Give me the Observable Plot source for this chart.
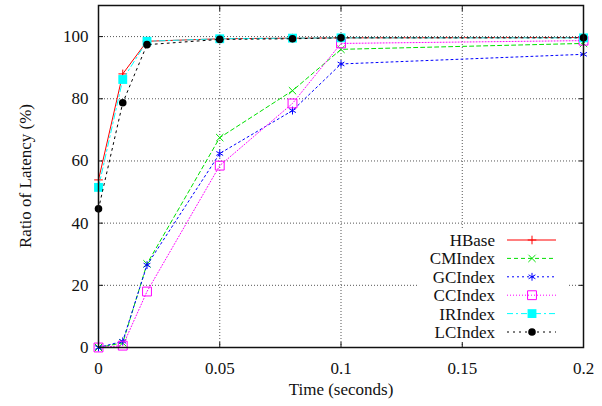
<!DOCTYPE html>
<html><head><meta charset="utf-8">
<script src="https://cdn.jsdelivr.net/npm/d3@7"></script>
<script src="https://cdn.jsdelivr.net/npm/@observablehq/plot@0.6"></script>
<style>
body{margin:0;background:#fff}
svg, svg text { font-family: "Liberation Serif", "Times New Roman", Times, serif !important; }
</style>
</head><body><div id="chart"></div>
<script>
const times = [0, 0.01, 0.02, 0.05, 0.08, 0.1, 0.2];
const seriesNames = ["HBase", "CMIndex", "GCIndex", "CCIndex", "IRIndex", "LCIndex"];
const hbase   = [53.9, 88.0, 98.5, 99.3, 99.5, 99.6, 99.7];
const cmindex = [0, 1.5, 26.9, 67.5, 82.6, 95.9, 97.8];
const gcindex = [0, 2.0, 26.5, 62.4, 76.2, 91.2, 94.3];
const ccindex = [0, 0.6, 18.0, 58.5, 78.5, 97.8, 98.7];
const irindex = [51.5, 86.2, 98.5, 99.3, 99.5, 99.6, 99.6];
const lcindex = [44.6, 78.7, 97.4, 99.1, 99.3, 99.6, 99.6];
const xTicks = [0, 0.05, 0.1, 0.15, 0.2];
const xTickLabels = ["0", "0.05", "0.1", "0.15", "0.2"];
const yTicks = [0, 20, 40, 60, 80, 100];
const yTickLabels = ["0", "20", "40", "60", "80", "100"];
const xTitle = "Time (seconds)";
const yTitle = "Ratio of Latency (%)";

const valuesBySeries = [hbase, cmindex, gcindex, ccindex, irindex, lcindex];
const styles = {
  HBase:   {color: "#ff0000", dash: null,      symbol: "plus",     r: 2.9, fill: "none",    stroke: "#ff0000"},
  CMIndex: {color: "#00e000", dash: "4,3",     symbol: "times",    r: 3.4, fill: "none",    stroke: "#00e000"},
  GCIndex: {color: "#0000ff", dash: "2,3",     symbol: "asterisk", r: 3.7, fill: "none",    stroke: "#0000ff"},
  CCIndex: {color: "#ff00ff", dash: "1,2",     symbol: "square",   r: 5,   fill: "none",    stroke: "#ff00ff"},
  IRIndex: {color: "#00ffff", dash: "6,3,2,3", symbol: "square",   r: 5,   fill: "#00ffff", stroke: "none"},
  LCIndex: {color: "#000000", dash: "2,4",     symbol: "circle",   r: 3.8, fill: "#000000", stroke: "none"}
};

const W = 602, H = 406, mL = 98, mR = 19, mT = 5, mB = 59;
const FONT = "Liberation Serif, Times New Roman, serif";

const marks = [];
marks.push(Plot.gridY(yTicks.filter(d => d > 0), {stroke: "#444", strokeOpacity: 0.9, strokeDasharray: "1,2"}));
marks.push(Plot.gridX(xTicks.filter(d => d > 0 && d < 0.2), {stroke: "#444", strokeOpacity: 0.9, strokeDasharray: "1,2"}));
marks.push(Plot.axisY(yTicks, {anchor: "left", tickSize: -5, tickPadding: 15, tickFormat: d => yTickLabels[yTicks.indexOf(d)], label: null, stroke: "#111", fontSize: 17}));
marks.push(Plot.axisY(yTicks, {anchor: "right", tickSize: -5, tickFormat: () => "", label: null, stroke: "#111"}));
marks.push(Plot.axisX(xTicks, {anchor: "bottom", tickSize: -5, tickPadding: 19, tickFormat: d => xTickLabels[xTicks.indexOf(d)], label: null, stroke: "#111", fontSize: 17}));
marks.push(Plot.axisX(xTicks, {anchor: "top", tickSize: -5, tickFormat: () => "", label: null, stroke: "#111"}));
marks.push(Plot.text([xTitle], {frameAnchor: "bottom", text: d => d, dy: 47, fontSize: 17}));

seriesNames.forEach((name, k) => {
  const rows = times.map((t, i) => ({t, v: valuesBySeries[k][i]}));
  const s = styles[name];
  marks.push(Plot.line(rows, {x: "t", y: "v", stroke: s.color, strokeWidth: 1, strokeDasharray: s.dash || undefined}));
  marks.push(Plot.dot(rows, {x: "t", y: "v", symbol: s.symbol, r: s.r, fill: s.fill, stroke: s.stroke, strokeWidth: 1}));
});
marks.push(Plot.frame({stroke: "#111", strokeWidth: 1.5}));

const chart = Plot.plot({
  width: W, height: H,
  marginLeft: mL, marginRight: mR, marginTop: mT, marginBottom: mB,
  style: {fontSize: "17px", fontFamily: FONT, background: "#fff", color: "#111"},
  x: {domain: [0, 0.2], axis: null},
  y: {domain: [0, 110], axis: null},
  marks
});

const svg = d3.select(chart);
const frameRight = W - mR, frameBottom = H - mB;
// Y axis title
svg.append("text")
  .attr("transform", `translate(${mL - 73},${(mT + frameBottom) / 2}) rotate(-90)`)
  .attr("text-anchor", "middle").attr("dy", "0.35em")
  .attr("font-size", 17).attr("fill", "#111").attr("font-family", FONT)
  .text(yTitle);

// Legend (inside plot, bottom right, opaque white box)
const symMap = {plus: d3.symbolPlus, times: d3.symbolTimes, asterisk: d3.symbolAsterisk, square: d3.symbolSquare, circle: d3.symbolCircle};
const lg = svg.append("g").attr("font-family", FONT);
const boxX0 = frameRight - 165, boxX1 = frameRight - 15, boxY0 = frameBottom - 117, boxY1 = frameBottom - 5;
lg.append("rect").attr("x", boxX0).attr("y", boxY0).attr("width", boxX1 - boxX0).attr("height", boxY1 - boxY0).attr("fill", "#fff");
const rowH = 18.4, firstY = frameBottom - 15 - 5 * rowH;
seriesNames.forEach((name, k) => {
  const s = styles[name];
  const y = firstY + k * rowH;
  lg.append("text").attr("x", frameRight - 88).attr("y", y).attr("dy", "0.35em").attr("text-anchor", "end")
    .attr("font-size", 17).attr("fill", "#111").text(name);
  lg.append("line").attr("x1", frameRight - 76).attr("x2", frameRight - 27).attr("y1", y).attr("y2", y)
    .attr("stroke", s.color).attr("stroke-width", 1).attr("stroke-dasharray", s.dash || null);
  lg.append("path").attr("transform", `translate(${frameRight - 51},${y})`)
    .attr("d", d3.symbol(symMap[s.symbol], Math.PI * s.r * s.r)())
    .attr("fill", s.fill).attr("stroke", s.stroke).attr("stroke-width", 1);
});
document.getElementById("chart").appendChild(chart);
</script>
</body></html>
